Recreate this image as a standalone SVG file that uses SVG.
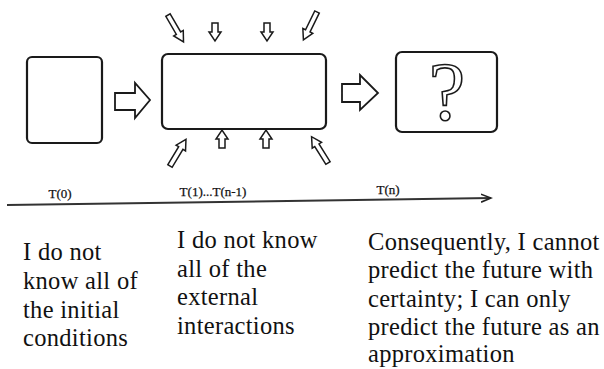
<svg xmlns="http://www.w3.org/2000/svg" width="604" height="369" viewBox="0 0 604 369">
<style>
.box{fill:#fff;stroke:#1a1a1a;stroke-width:2.2}
.harrow{fill:#fff;stroke:#1a1a1a;stroke-width:1.8;stroke-linejoin:miter}
.sarrow{fill:#fff;stroke:#1a1a1a;stroke-width:1.5}
.tl{font-size:13px;fill:#111;stroke:#111;stroke-width:0.25;text-anchor:middle}
.cap{font-size:24.5px;letter-spacing:0.3px;fill:#111}
.axis{stroke:#333;stroke-width:2;fill:none}
</style>
<defs>
<path id="longArrow" d="M0,-2.5 L21,-2.5 L21,-5.5 L31,0 L21,5.5 L21,2.5 L0,2.5 Z"/>
<path id="shortArrow" d="M0,-3 L9,-3 L9,-6 L18,0 L9,6 L9,3 L0,3 Z"/>
<marker id="tip" markerWidth="12" markerHeight="10" refX="10" refY="5" orient="auto" markerUnits="userSpaceOnUse">
<path d="M0,1 L10,5 L0,9" fill="none" stroke="#222" stroke-width="1.6"/>
</marker>
</defs>
<rect width="604" height="369" fill="#fff"/>

<g id="node-t0">
<rect class="box" x="27" y="57" width="75" height="86" rx="5"/>
</g>
<g id="node-t1">
<rect class="box" x="162" y="54" width="164" height="75" rx="6"/>
</g>
<g id="node-tn">
<rect class="box" x="396" y="52" width="101" height="80" rx="6"/>
<text x="447" y="119" font-family="Liberation Serif" font-size="82" text-anchor="middle" fill="#fff" stroke="#1a1a1a" stroke-width="1.6">?</text>
</g>

<g id="connectors">
<path class="harrow" d="M115,93 L135,93 L135,83 L150,100 L135,118 L135,110 L115,110 Z"/>
<path class="harrow" d="M342,84 L360,84 L360,75 L378,93 L360,110 L360,102 L342,102 Z"/>
</g>

<g id="interactions">
<use href="#longArrow" class="sarrow" transform="translate(168,15) rotate(60)"/>
<use href="#shortArrow" class="sarrow" transform="translate(215,23) rotate(90)"/>
<use href="#shortArrow" class="sarrow" transform="translate(267,23) rotate(90)"/>
<use href="#longArrow" class="sarrow" transform="translate(317,12) rotate(116)"/>
<use href="#longArrow" class="sarrow" transform="translate(170,166) rotate(-59)"/>
<use href="#shortArrow" class="sarrow" transform="translate(222,148) rotate(-90)"/>
<use href="#shortArrow" class="sarrow" transform="translate(266,148) rotate(-90)"/>
<use href="#longArrow" class="sarrow" transform="translate(328,163) rotate(-122)"/>
</g>

<g id="timeline" font-family="Liberation Serif">
<path class="axis" d="M7,205 L491,198" marker-end="url(#tip)"/>
<text class="tl" x="60" y="198">T(0)</text>
<text class="tl" x="213" y="196">T(1)...T(n-1)</text>
<text class="tl" x="388" y="194">T(n)</text>
</g>

<g id="captions" font-family="Liberation Serif">
<text class="cap"><tspan x="23" y="260">I do not</tspan><tspan x="23" y="289">know all of</tspan><tspan x="23" y="317.5">the initial</tspan><tspan x="23" y="346">conditions</tspan></text>
<text class="cap"><tspan x="177" y="248">I do not know</tspan><tspan x="177" y="276.5">all of the</tspan><tspan x="177" y="305">external</tspan><tspan x="177" y="333.5">interactions</tspan></text>
<text class="cap"><tspan x="368" y="250">Consequently, I cannot</tspan><tspan x="368" y="278">predict the future with</tspan><tspan x="368" y="306.5">certainty; I can only</tspan><tspan x="368" y="334.5">predict the future as an</tspan><tspan x="368" y="362">approximation</tspan></text>
</g>
</svg>
